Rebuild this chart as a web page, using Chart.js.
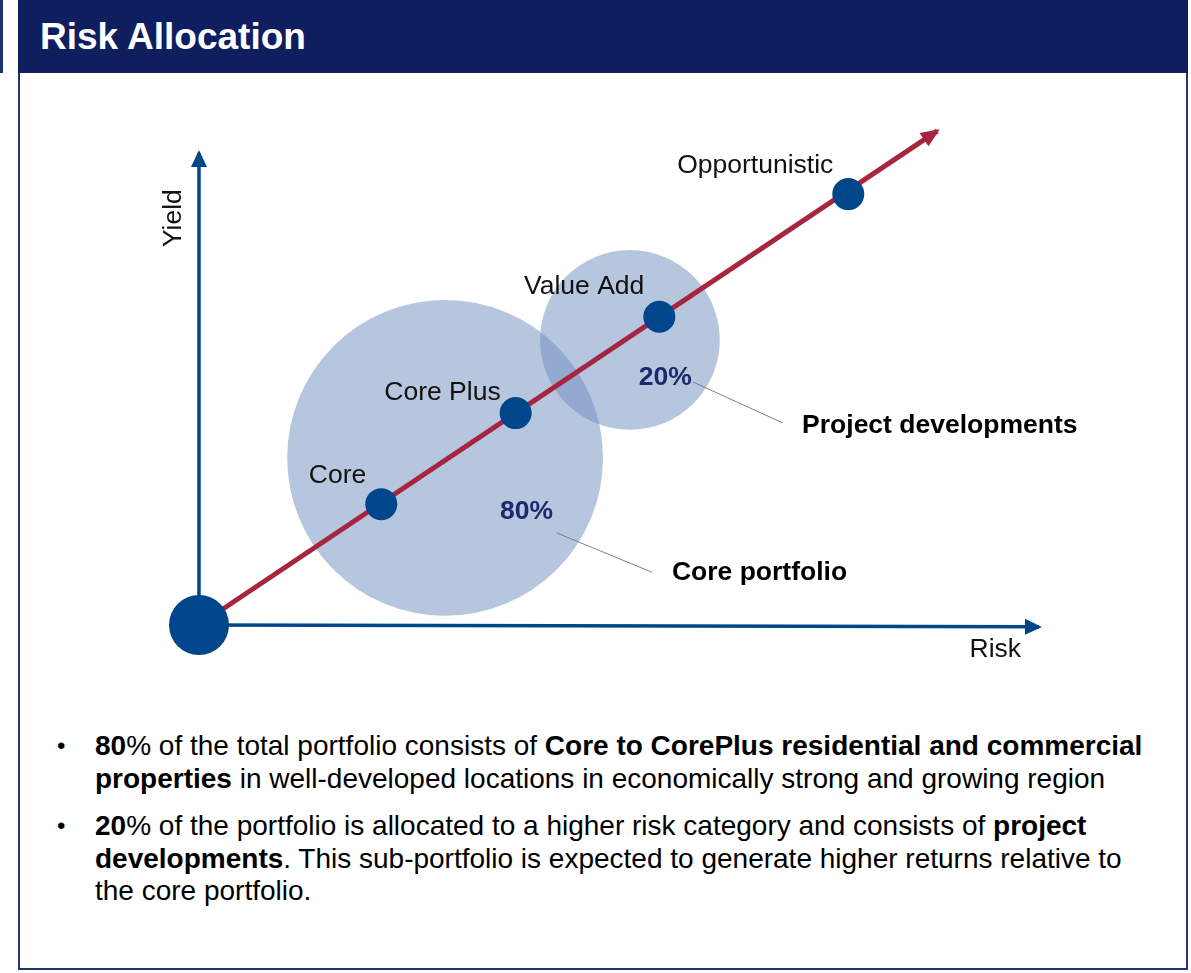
<!DOCTYPE html>
<html>
<head>
<meta charset="utf-8">
<title>Risk Allocation</title>
<script src="https://cdn.jsdelivr.net/npm/chart.js@4.4.1/dist/chart.umd.min.js"></script>
<style>
  html, body { margin: 0; padding: 0; background: #fff; }
  body { width: 1191px; height: 973px; position: relative; overflow: hidden;
         font-family: "Liberation Sans", Arial, sans-serif; }
  .sidebar { position: absolute; left: 0; top: 0; width: 3px; height: 73px; background: #1f3070; }
  .header { position: absolute; left: 18px; top: 0; width: 1170px; height: 73px; background: #0e1e5f; }
  .header h1 { margin: 0; position: absolute; left: 22px; top: 15px; color: #fff;
               font-size: 37px; font-weight: bold; line-height: 44px; }
  .frame { position: absolute; left: 18px; top: 73px; width: 1166px; height: 895px;
           border: 2px solid #24336f; border-top: none; }
  #chartBox { position: absolute; left: 0; top: 74px; width: 1191px; height: 640px; }
  .bullets { position: absolute; left: 0; top: 730px; width: 1152px; font-size: 28px;
             line-height: 32.5px; color: #000; }
  .bullets .item { position: relative; padding-left: 95px; margin-bottom: 15px; }
  .bullets .item::before { content: "\2022"; position: absolute; left: 57px; top: 0; font-size: 24px; }
</style>
</head>
<body>
<div class="sidebar"></div>
<div class="header"><h1>Risk Allocation</h1></div>
<div class="frame"></div>
<div id="chartBox"><canvas id="riskChart"></canvas></div>
<div class="bullets">
  <div class="item"><b>80</b>% of the total portfolio consists of <b>Core to CorePlus residential and commercial properties</b> in well-developed locations in economically strong and growing region</div>
  <div class="item"><b>20</b>% of the portfolio is allocated to a higher risk category and consists of <b>project developments</b>. This sub-portfolio is expected to generate higher returns relative to the core portfolio.</div>
</div>
<script>
// strategy points along the risk / yield line
const strategies = ["Core", "Core Plus", "Value Add", "Opportunistic"];
const strategyRisk = [21.7, 37.7, 54.8, 77.3];
const strategyYield = [25.6, 44.9, 65.3, 91.3];

// end of the red risk/return arrow
const trendRisk = [0, 87.9];
const trendYield = [0, 104.7];

// portfolio buckets (circles)
const portfolios = ["Core portfolio", "Project developments"];
const portfolioShare = ["80%", "20%"];
const portfolioRisk = [29.3, 51.3];
const portfolioYield = [35.4, 60.4];
const portfolioSpread = [18.8, 10.7]; // circle radius in risk units

// axes
const axisRisk = [0, 100];
const axisYield = [0, 100];

// where the share %, leader line and caption sit (risk, yield)
const sharePos = [[39.0, 23.9], [55.5, 52.5]];
const leaderFrom = [[42.6, 19.5], [58.8, 51.5]];
const leaderTo = [[53.9, 11.2], [69.5, 42.8]];
const captionPos = [[56.3, 11.0], [71.8, 42.2]];

const BLUE = "#00468b";
const RED = "#a6253f";
const NAVY = "#1b2a6b";
const FONT = '"Liberation Sans", Arial, sans-serif';
const labelLift = [28, 20, 30, 28]; // px above each point

function pts(xs, ys) {
  return xs.map((x, i) => ({ x: x, y: ys[i] }));
}

function arrowHead(ctx, x0, y0, x1, y1, len, half, color) {
  const a = Math.atan2(y1 - y0, x1 - x0);
  const tx = x1 + Math.cos(a) * 3, ty = y1 + Math.sin(a) * 3;
  const bx = tx - Math.cos(a) * len, by = ty - Math.sin(a) * len;
  ctx.beginPath();
  ctx.moveTo(tx, ty);
  ctx.lineTo(bx - Math.sin(a) * half, by + Math.cos(a) * half);
  ctx.lineTo(bx + Math.sin(a) * half, by - Math.cos(a) * half);
  ctx.closePath();
  ctx.fillStyle = color;
  ctx.fill();
}

const decorations = {
  id: "decorations",
  afterDatasetsDraw(chart) {
    const ctx = chart.ctx;
    const sx = chart.scales.x, sy = chart.scales.y;
    const px = v => sx.getPixelForValue(v);
    const py = v => sy.getPixelForValue(v);
    ctx.save();

    // arrow heads
    arrowHead(ctx, px(0), py(0), px(axisRisk[1]), py(-0.4), 17, 8, BLUE);
    arrowHead(ctx, px(0), py(0), px(0), py(axisYield[1]), 17, 8, BLUE);
    arrowHead(ctx, px(trendRisk[0]), py(trendYield[0]), px(trendRisk[1]), py(trendYield[1]), 19, 8, RED);

    // strategy labels
    ctx.font = "26.5px " + FONT;
    ctx.fillStyle = "#111";
    ctx.textAlign = "right";
    ctx.textBaseline = "middle";
    strategies.forEach((s, i) => {
      ctx.fillText(s, px(strategyRisk[i]) - 15, py(strategyYield[i]) - labelLift[i]);
    });

    // axis titles
    ctx.textAlign = "center";
    ctx.fillText("Risk", px(94.8), py(-5.3));
    ctx.save();
    ctx.translate(px(-3.0), py(86.2));
    ctx.rotate(-Math.PI / 2);
    ctx.fillText("Yield", 0, 0);
    ctx.restore();

    // shares, leader lines, captions
    portfolios.forEach((p, i) => {
      ctx.font = "bold 26.5px " + FONT;
      ctx.fillStyle = NAVY;
      ctx.textAlign = "center";
      ctx.fillText(portfolioShare[i], px(sharePos[i][0]), py(sharePos[i][1]));

      ctx.beginPath();
      ctx.moveTo(px(leaderFrom[i][0]), py(leaderFrom[i][1]));
      ctx.lineTo(px(leaderTo[i][0]), py(leaderTo[i][1]));
      ctx.strokeStyle = "#7f7f7f";
      ctx.lineWidth = 1;
      ctx.stroke();

      ctx.fillStyle = "#000";
      ctx.textAlign = "left";
      ctx.fillText(p, px(captionPos[i][0]), py(captionPos[i][1]));
    });
    ctx.restore();
  }
};

function spreadRadius(ctx) {
  const sx = ctx.chart.scales.x;
  return sx.getPixelForValue(portfolioSpread[ctx.dataIndex]) - sx.getPixelForValue(0);
}

const chart = new Chart(document.getElementById("riskChart").getContext("2d"), {
  type: "scatter",
  data: {
    datasets: [
      {
        label: "Strategies",
        data: pts(strategyRisk, strategyYield),
        pointRadius: 16,
        pointHoverRadius: 16,
        backgroundColor: BLUE,
        borderWidth: 0,
        order: 0
      },
      {
        label: "Origin",
        data: [{ x: 0, y: 0 }],
        pointRadius: 30,
        pointHoverRadius: 30,
        backgroundColor: BLUE,
        borderWidth: 0,
        order: 1
      },
      {
        type: "line",
        label: "Risk / return",
        data: pts(trendRisk, trendYield),
        borderColor: RED,
        borderWidth: 5,
        pointRadius: 0,
        order: 2
      },
      {
        type: "line",
        label: "Risk axis",
        data: [{ x: 0, y: 0 }, { x: axisRisk[1], y: -0.4 }],
        borderColor: BLUE,
        borderWidth: 3.5,
        pointRadius: 0,
        order: 3
      },
      {
        type: "line",
        label: "Yield axis",
        data: [{ x: 0, y: 0 }, { x: 0, y: axisYield[1] }],
        borderColor: BLUE,
        borderWidth: 3.5,
        pointRadius: 0,
        order: 3
      },
      {
        label: "Portfolios",
        data: pts(portfolioRisk, portfolioYield),
        pointRadius: spreadRadius,
        pointHoverRadius: spreadRadius,
        backgroundColor: "rgba(111, 141, 191, 0.5)",
        borderWidth: 0,
        order: 4
      }
    ]
  },
  options: {
    responsive: true,
    maintainAspectRatio: false,
    animation: false,
    layout: { padding: 0, autoPadding: false },
    plugins: {
      legend: { display: false },
      tooltip: { enabled: false }
    },
    scales: {
      x: { type: "linear", display: false, min: -23.69, max: 118.1 },
      y: { type: "linear", display: false, min: -18.86, max: 116.74 }
    },
    elements: { line: { tension: 0 } }
  },
  plugins: [decorations]
});
</script>
</body>
</html>
